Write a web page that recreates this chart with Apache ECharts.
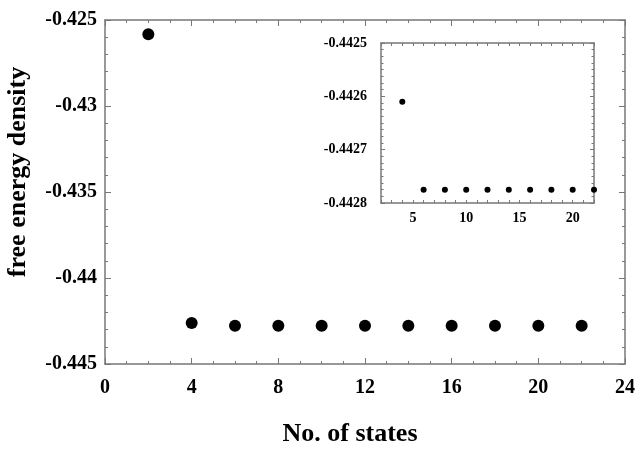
<!DOCTYPE html>
<html>
<head>
<meta charset="utf-8">
<script src="https://cdn.jsdelivr.net/npm/echarts@6/dist/echarts.min.js"></script>
<style>
  html, body { margin: 0; padding: 0; background: #fff; }
  #chart { width: 641px; height: 449px; }
</style>
</head>
<body>
<div id="chart"></div>
<script>
// main panel
var states = [2, 4, 6, 8, 10, 12, 14, 16, 18, 20, 22];
var energy = [-0.42583, -0.44261, -0.442775, -0.442775, -0.442775, -0.442775,
  -0.442775, -0.442775, -0.442775, -0.442775, -0.442775];
// inset (zoom on the converged part)
var insetStates = [4, 6, 8, 10, 12, 14, 16, 18, 20, 22];
var insetEnergy = [-0.44261, -0.442775, -0.442775, -0.442775, -0.442775,
  -0.442775, -0.442775, -0.442775, -0.442775, -0.442775];
var insetXLabels = [5, 10, 15, 20];

var font = 'Liberation Serif';
var frame = '#777';

function pairs(xs, ys) {
  var out = [];
  for (var i = 0; i < xs.length; i++) {
    out.push([xs[i], ys[i]]);
  }
  return out;
}

function frameAxis(extra) {
  var base = {
    axisLine: { show: true, onZero: false, lineStyle: { color: frame, width: 1.5 } },
    axisTick: { show: true, inside: true, length: 6, lineStyle: { color: frame } },
    minorTick: { show: true, length: 3, lineStyle: { color: frame } },
    axisLabel: { show: false },
    splitLine: { show: false }
  };
  for (var k in extra) base[k] = extra[k];
  return base;
}

var chart = echarts.init(document.getElementById('chart'));

var option = {
  backgroundColor: '#fff',
  animation: false,
  grid: [
    { left: 105, top: 20, right: 16, bottom: 85 },
    { left: 381, top: 43, right: 47, bottom: 246 }
  ],
  xAxis: [
    frameAxis({ gridIndex: 0, type: 'value', min: 0, max: 24, interval: 4, position: 'bottom',
      minorTick: { show: true, splitNumber: 4, length: 3, lineStyle: { color: frame } },
      axisLabel: { show: true, margin: 14, color: '#000', fontFamily: font, fontWeight: 'bold', fontSize: 20 } }),
    frameAxis({ gridIndex: 0, type: 'value', min: 0, max: 24, interval: 4, position: 'top',
      minorTick: { show: true, splitNumber: 4, length: 3, lineStyle: { color: frame } } }),
    frameAxis({ gridIndex: 1, type: 'value', min: 2, max: 22, interval: 1, position: 'bottom',
      axisTick: { show: true, inside: true, length: 3, lineStyle: { color: frame } },
      minorTick: { show: false },
      axisLabel: { show: true, interval: 0, margin: 8, color: '#000', fontFamily: font, fontWeight: 'bold', fontSize: 14,
        formatter: function (v) { return insetXLabels.indexOf(v) >= 0 ? String(v) : ''; } } }),
    frameAxis({ gridIndex: 1, type: 'value', min: 2, max: 22, interval: 1, position: 'top',
      axisTick: { show: true, inside: true, length: 3, lineStyle: { color: frame } },
      minorTick: { show: false } })
  ],
  yAxis: [
    frameAxis({ gridIndex: 0, type: 'value', min: -0.445, max: -0.425, interval: 0.005, position: 'left',
      minorTick: { show: true, splitNumber: 5, length: 3, lineStyle: { color: frame } },
      axisLabel: { show: true, margin: 8, color: '#000', fontFamily: font, fontWeight: 'bold', fontSize: 20,
        formatter: function (v) { return String(+v.toFixed(4)); } } }),
    frameAxis({ gridIndex: 0, type: 'value', min: -0.445, max: -0.425, interval: 0.005, position: 'right',
      minorTick: { show: true, splitNumber: 5, length: 3, lineStyle: { color: frame } } }),
    frameAxis({ gridIndex: 1, type: 'value', min: -0.4428, max: -0.4425, interval: 0.0001, position: 'left',
      axisTick: { show: true, inside: true, length: 4, lineStyle: { color: frame } },
      minorTick: { show: true, splitNumber: 8, length: 2.5, lineStyle: { color: frame } },
      axisLabel: { show: true, margin: 14, color: '#000', fontFamily: font, fontWeight: 'bold', fontSize: 14,
        formatter: function (v) { return String(+v.toFixed(5)); } } }),
    frameAxis({ gridIndex: 1, type: 'value', min: -0.4428, max: -0.4425, interval: 0.0001, position: 'right',
      axisTick: { show: true, inside: true, length: 4, lineStyle: { color: frame } },
      minorTick: { show: true, splitNumber: 8, length: 2.5, lineStyle: { color: frame } } })
  ],
  graphic: [
    { type: 'rect', left: 381, top: 43, shape: { width: 213, height: 160 }, style: { fill: '#fff' }, z: 0 },
    { type: 'text', x: 350, y: 434, style: { text: 'No. of states', fill: '#000', font: 'bold 26px "Liberation Serif"', textAlign: 'center', textVerticalAlign: 'middle' } },
    { type: 'text', x: 18, y: 172, rotation: Math.PI / 2, style: { text: 'free energy density', fill: '#000', font: 'bold 26px "Liberation Serif"', textAlign: 'center', textVerticalAlign: 'middle' } }
  ],
  series: [
    { type: 'scatter', xAxisIndex: 0, yAxisIndex: 0, data: pairs(states, energy),
      symbol: 'circle', symbolSize: 12, itemStyle: { color: '#000', opacity: 1 }, clip: false },
    { type: 'scatter', xAxisIndex: 2, yAxisIndex: 2, data: pairs(insetStates, insetEnergy),
      symbol: 'circle', symbolSize: 6, itemStyle: { color: '#000', opacity: 1 }, clip: false, z: 5 }
  ]
};

chart.setOption(option);
</script>
</body>
</html>
